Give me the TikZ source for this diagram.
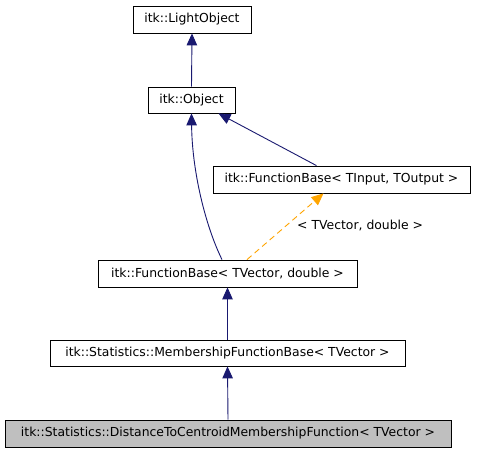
\documentclass[tikz,border=0pt]{standalone}
\usepackage{fontspec}
\setmainfont{DejaVu Sans}
\usetikzlibrary{arrows.meta}
\definecolor{edgeblue}{RGB}{25,25,112}
\definecolor{edgeorange}{RGB}{255,165,0}
\definecolor{grayfill}{RGB}{191,191,191}
\begin{document}
\begin{tikzpicture}[x=1pt,y=-1pt,
  box/.style={draw=black,line width=0.8pt,fill=white,inner sep=0pt,font=\fontsize{12.4}{14}\selectfont},
  inh/.style={draw=edgeblue,line width=0.9pt,-{Triangle[length=12pt,width=10.5pt,fill=edgeblue]}},
  tmpl/.style={draw=edgeorange,line width=0.9pt,dash pattern=on 6pt off 4pt,-{Triangle[length=12pt,width=10.5pt,fill=edgeorange]}},
  lbl/.style={font=\fontsize{12.4}{14}\selectfont,inner sep=0pt}]
\useasboundingbox[fill=white] (0,0) rectangle (477,453);
\node[box,minimum width=118pt,minimum height=27pt] (LO) at (192,19.5) {itk::LightObject};
\node[box,minimum width=87pt,minimum height=26pt] (OB) at (191.5,100) {itk::Object};
\node[box,minimum width=257pt,minimum height=27pt] (FBI) at (341.5,179.5) {itk::FunctionBase< TInput, TOutput >};
\node[box,minimum width=259pt,minimum height=27pt] (FBV) at (227.5,273.5) {itk::FunctionBase< TVector, double >};
\node[box,minimum width=355pt,minimum height=26pt] (MFB) at (227.5,353) {itk::Statistics::MembershipFunctionBase< TVector >};
\node[box,fill=grayfill,minimum width=446pt,minimum height=27pt] (DC) at (228,433.5) {itk::Statistics::DistanceToCentroidMembershipFunction< TVector >};
\draw[inh] (OB.north) -- (LO.south);
\draw[inh] ([xshift=-25pt]FBI.north) -- ([xshift=27pt]OB.south);
\draw[inh] ([xshift=-5.5pt]FBV.north) .. controls (205,225) and (192,170) .. (OB.south);
\draw[tmpl] ([xshift=19.5pt]FBV.north) -- ([xshift=-18pt]FBI.south);
\node[lbl,anchor=west] (L) at (297,226) {< TVector, double >};
\draw[inh] (MFB.north) -- (FBV.south);
\draw[inh] (DC.north) -- (MFB.south);
\end{tikzpicture}
\end{document}
